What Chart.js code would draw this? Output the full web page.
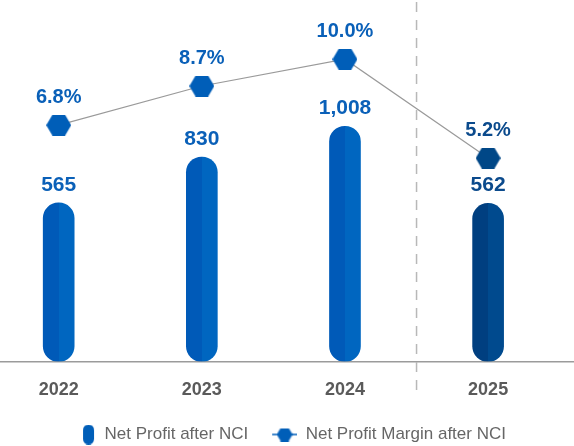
<!DOCTYPE html>
<html>
<head>
<meta charset="utf-8">
<script src="https://cdn.jsdelivr.net/npm/chart.js@4"></script>
<style>
  html, body { margin: 0; padding: 0; background: #fff; }
  #wrap { width: 574px; height: 446px; }
</style>
</head>
<body>
<div id="wrap"><canvas id="profit-chart"></canvas></div>
<script>
const years = ['2022', '2023', '2024', '2025'];
const netProfit = [565, 830, 1008, 562];
const profitMargin = [6.8, 8.7, 10.0, 5.2];

const FONT = '"Liberation Sans", Arial, Helvetica, sans-serif';
const blueDark = '#005ab8', blueLight = '#0066c0';
const navyDark = '#003f80', navyLight = '#004a8e';
const LEGEND_PAD = 21;
const LEGEND_TRIM = 14;

// hexagon marker, pointy left/right
function hexagon(w, h, color) {
    const c = document.createElement('canvas');
    c.width = w; c.height = h;
    const g = c.getContext('2d');
    g.fillStyle = color;
    g.beginPath();
    g.moveTo(0, h / 2);
    g.lineTo(w * 0.25, 0);
    g.lineTo(w * 0.75, 0);
    g.lineTo(w, h / 2);
    g.lineTo(w * 0.75, h);
    g.lineTo(w * 0.25, h);
    g.closePath();
    g.fill();
    return c;
}
const hexBlue = hexagon(25, 21, '#005eb8');
const hexNavy = hexagon(25, 21, '#004787');

// legend icons, 28px box
function pillIcon() {
    const c = document.createElement('canvas');
    c.width = 28; c.height = 20;
    const g = c.getContext('2d');
    g.fillStyle = '#005eb8';
    g.beginPath();
    g.roundRect(15, 0, 11, 20, 5.5);
    g.fill();
    return c;
}
function lineIcon() {
    const c = document.createElement('canvas');
    c.width = 28; c.height = 14;
    const g = c.getContext('2d');
    g.strokeStyle = '#005eb8';
    g.lineWidth = 1.5;
    g.beginPath();
    g.moveTo(3, 7); g.lineTo(28, 7);
    g.stroke();
    g.drawImage(hexagon(16, 13, '#005eb8'), 7.5, 0.5);
    return c;
}

function barFill(c) {
    const i = c.dataIndex;
    const last = i === years.length - 1;
    const xs = c.chart.scales.x;
    if (c.type !== 'data' || !xs) return last ? navyLight : blueLight;
    const cx = xs.getPixelForValue(i);
    const g = c.chart.ctx.createLinearGradient(cx - 16, 0, cx + 16, 0);
    g.addColorStop(0, last ? navyDark : blueDark);
    g.addColorStop(0.5, last ? navyDark : blueDark);
    g.addColorStop(0.5, last ? navyLight : blueLight);
    g.addColorStop(1, last ? navyLight : blueLight);
    return g;
}

// legend needs wide item spacing but little height: trim its box, then start it higher
const legendTrim = {
    id: 'legendTrim',
    beforeLayout(chart) {
        const lg = chart.legend;
        if (lg && !lg._trimmed) {
            const fit = lg.fit;
            lg.fit = function () { fit.call(this); this.height -= LEGEND_TRIM; };
            lg._trimmed = true;
        }
    },
    afterLayout(chart) {
        chart.legend.top -= LEGEND_TRIM;
    }
};

// dashed split line between actuals and 2025
const splitLine = {
    id: 'splitLine',
    beforeDatasetsDraw(chart) {
        const x = chart.scales.x.getPixelForValue(2.5);
        const ctx = chart.ctx;
        ctx.save();
        ctx.strokeStyle = '#b8b8b8';
        ctx.lineWidth = 1.5;
        ctx.setLineDash([10, 8]);
        ctx.beginPath();
        ctx.moveTo(x, 2);
        ctx.lineTo(x, 398);
        ctx.stroke();
        ctx.restore();
    }
};

// value labels above bars and points
const valueLabels = {
    id: 'valueLabels',
    afterDatasetsDraw(chart) {
        const ctx = chart.ctx;
        ctx.save();
        ctx.textAlign = 'center';
        ctx.textBaseline = 'middle';
        chart.getDatasetMeta(0).data.forEach((bar, i) => {
            ctx.fillStyle = i === 3 ? '#0b4a8c' : '#0a60b8';
            ctx.font = 'bold 21px ' + FONT;
            ctx.fillText(netProfit[i].toLocaleString('en-US'), bar.x, bar.y - 18);
        });
        chart.getDatasetMeta(1).data.forEach((pt, i) => {
            ctx.fillStyle = i === 3 ? '#0b4a8c' : '#0a60b8';
            ctx.font = 'bold 20px ' + FONT;
            ctx.fillText(profitMargin[i].toFixed(1) + '%', pt.x, pt.y - 28);
        });
        ctx.restore();
    }
};

const ctx = document.getElementById('profit-chart').getContext('2d');
const profitChart = new Chart(ctx, {
    data: {
        datasets: [{
            type: 'bar',
            label: 'Net Profit after NCI',
            data: netProfit.map((v, i) => ({ x: i, y: v })),
            backgroundColor: barFill,
            barThickness: 31,
            borderRadius: 16,
            borderSkipped: false,
            base: -350,
            yAxisID: 'y',
            order: 1
        }, {
            type: 'line',
            label: 'Net Profit Margin after NCI',
            data: profitMargin.map((v, i) => ({ x: i, y: v })),
            borderColor: '#9a9a9a',
            borderWidth: 1.2,
            pointStyle: (c) => c.dataIndex === 3 ? hexNavy : hexBlue,
            yAxisID: 'y1',
            order: 0
        }]
    },
    options: {
        responsive: true,
        maintainAspectRatio: false,
        animation: false,
        layout: { autoPadding: false, padding: { top: 10, left: 0, right: 0, bottom: -7 } },
        plugins: {
            tooltip: { enabled: false },
            legend: {
                position: 'bottom',
                labels: {
                    usePointStyle: true,
                    pointStyleWidth: 28,
                    boxHeight: 16,
                    padding: LEGEND_PAD,
                    color: '#666',
                    font: { family: FONT, size: 17 },
                    generateLabels: () => [
                        { text: 'Net Profit after NCI', pointStyle: pillIcon(), fillStyle: '#005eb8', strokeStyle: '#005eb8', lineWidth: 0, fontColor: '#666', datasetIndex: 0 },
                        { text: 'Net Profit Margin after NCI', pointStyle: lineIcon(), fillStyle: '#005eb8', strokeStyle: '#005eb8', lineWidth: 0, fontColor: '#666', datasetIndex: 1 }
                    ]
                }
            }
        },
        scales: {
            x: {
                type: 'linear',
                offset: false,
                min: -0.41,
                max: 3.6,
                grid: { display: false, drawTicks: false },
                border: { display: true, color: '#9b9b9b', width: 1.5 },
                afterBuildTicks: (s) => { s.ticks = years.map((_, i) => ({ value: i })); },
                ticks: {
                    padding: 18,
                    color: '#5a5a5a',
                    font: { family: FONT, size: 18, weight: 'bold' },
                    callback: (v) => years[v]
                }
            },
            y: { display: false, min: -350, max: 1679 },
            y1: { display: false, min: -4.67, max: 12.39 }
        }
    },
    plugins: [legendTrim, splitLine, valueLabels]
});
</script>
</body>
</html>
